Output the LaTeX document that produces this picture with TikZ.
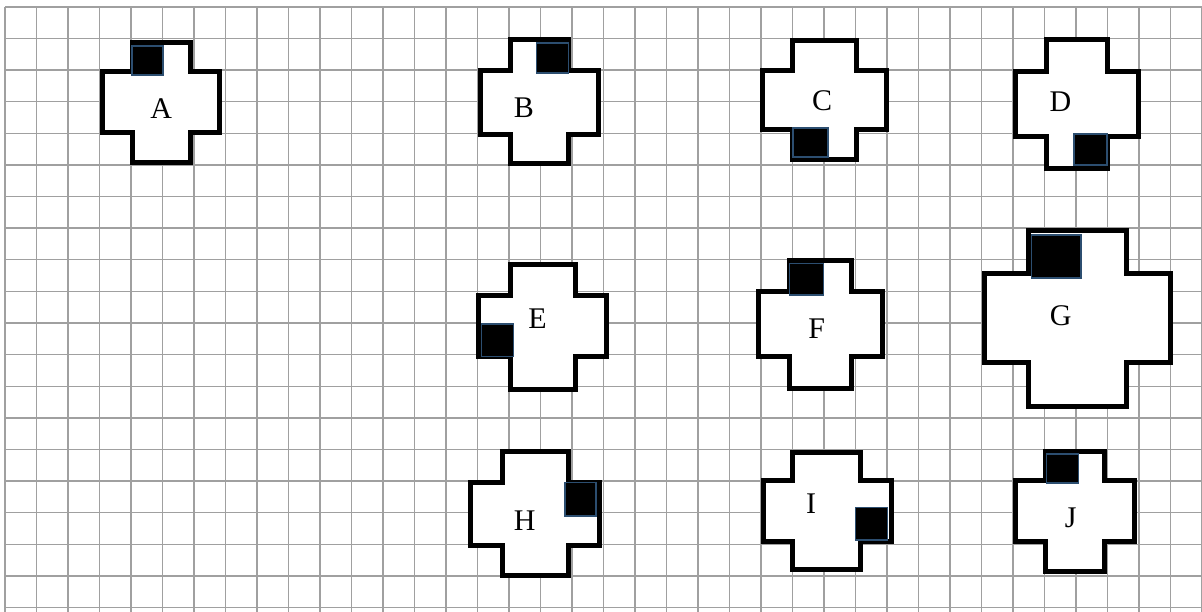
\documentclass[tikz,border=0pt]{standalone}
\usepackage{fontspec}
\setmainfont{Liberation Serif}
\definecolor{gridgray}{RGB}{160,160,160}
\definecolor{markblue}{RGB}{44,78,112}
\newcommand\drawplus[8]{%
  \draw[crossbox] (#2,#5) -- (#3,#5) -- (#3,#6) -- (#4,#6) -- (#4,#7) -- (#3,#7)
    -- (#3,#8) -- (#2,#8) -- (#2,#7) -- (#1,#7) -- (#1,#6) -- (#2,#6) -- cycle;}
\begin{document}
\begin{tikzpicture}[x=1pt,y=-1pt,
  gridline/.style={draw=gridgray,line width=1.4pt},
  crossbox/.style={draw=black,fill=white,line width=5pt,line join=miter},
  marker/.style={fill=black,draw=markblue,line width=1.5pt},
  lbl/.style={font=\fontsize{30}{30}\selectfont,inner sep=0pt}]
\useasboundingbox (0,0) rectangle (1202,612);
\fill[white] (0,0) rectangle (1202,612);
% grid
\foreach \i in {0,...,38} \draw[gridline] ({5+31.5*\i},7) -- ({5+31.5*\i},612);
\foreach \j in {0,...,19} \draw[gridline] (5,{7+31.6*\j}) -- (1202,{7+31.6*\j});
% crosses
\drawplus{102.5}{132}{190}{219}{42.5}{71.5}{133}{162.5}
\drawplus{480}{510}{568.5}{598}{40}{71}{135}{164}
\drawplus{762.5}{792.5}{856.5}{886}{41}{71}{130}{160}
\drawplus{1015}{1046}{1107.5}{1138.5}{40}{71.5}{137}{168.5}
\drawplus{478.5}{510}{575}{606}{265}{296}{356.5}{389}
\drawplus{758.5}{789}{851}{882.5}{260.8}{291.8}{356.8}{388}
\drawplus{984}{1028.5}{1126.5}{1170}{231}{274}{362.5}{406.5}
\drawplus{470.8}{502.5}{568.5}{599}{451.7}{482.5}{545.8}{575.8}
\drawplus{763}{792.5}{860}{891}{452.5}{480}{541}{569}
\drawplus{1015.8}{1045.8}{1104}{1134}{451.7}{480.8}{541.8}{571.5}
% markers
\draw[marker] (132,46) rectangle (163,75);
\draw[marker] (536.7,43) rectangle (568.3,73);
\draw[marker] (793,128) rectangle (828,157);
\draw[marker] (1074,134) rectangle (1107,165);
\draw[marker] (481.7,324) rectangle (513.3,356.7);
\draw[marker] (789.3,263.3) rectangle (823.3,295);
\draw[marker] (1031.7,235) rectangle (1081,278);
\draw[marker] (565,482.7) rectangle (596,516);
\draw[marker] (855.7,507.7) rectangle (887.3,540);
\draw[marker] (1046.7,454) rectangle (1078.3,483);
% labels
\node[lbl] (lA) at (161.3,108.8) {A};
\node[lbl] (lB) at (523.8,107.8) {B};
\node[lbl] (lC) at (822.2,101.2) {C};
\node[lbl] (lD) at (1060.5,102.2) {D};
\node[lbl] (lE) at (537.5,318.7) {E};
\node[lbl] (lF) at (816.7,328.5) {F};
\node[lbl] (lG) at (1060.8,316) {G};
\node[lbl] (lH) at (524.7,520.5) {H};
\node[lbl] (lI) at (811,503.3) {I};
\node[lbl] (lJ) at (1070.8,517.5) {J};
\end{tikzpicture}
\end{document}
